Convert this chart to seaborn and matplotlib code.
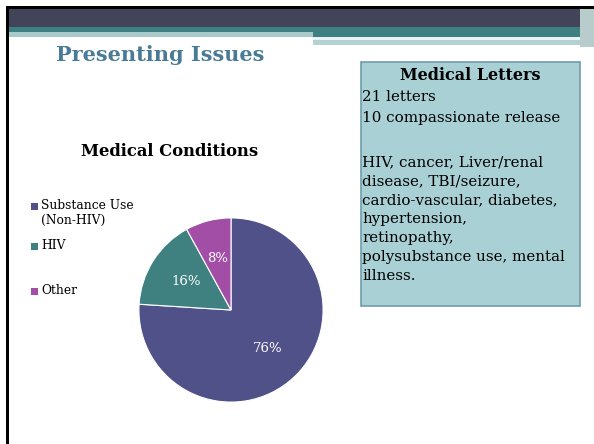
import numpy as np
import matplotlib
matplotlib.use("Agg")
import matplotlib.pyplot as plt
import seaborn as sns
from matplotlib.patches import Rectangle

# data
categories = ["Substance Use\n(Non-HIV)", "HIV", "Other"]
shares = [76, 16, 8]
colors = ["#51518A", "#3F8181", "#A24DA6"]
legend_y = [206, 246, 291]

box_title = "Medical Letters"
box_lines = ["21 letters", "10 compassionate release",
             "HIV, cancer, Liver/renal", "disease, TBI/seizure,",
             "cardio-vascular, diabetes,", "hypertension,", "retinopathy,",
             "polysubstance use, mental", "illness."]
box_y = [97, 118, 162, 181, 200, 219, 238, 257, 276]

sns.set_theme(style="white")
serif = ["DejaVu Serif", "Liberation Serif"]
plt.rcParams["font.family"] = serif
plt.rcParams["text.color"] = "black"

W, H = 594, 444
fig = plt.figure(figsize=(W / 100, H / 100), dpi=100)
fig.patch.set_facecolor("white")

# background axes in pixel coordinates
bg = fig.add_axes([0, 0, 1, 1])
bg.set_xlim(0, W)
bg.set_ylim(H, 0)
bg.axis("off")

# slide header decoration
bg.add_patch(Rectangle((6, 6), W - 6, 3, color="black", lw=0))
bg.add_patch(Rectangle((6, 6), 3, H - 6, color="black", lw=0))
bg.add_patch(Rectangle((9, 9), W - 9, 18, color="#42445A", lw=0))
bg.add_patch(Rectangle((9, 27), W - 9, 5, color="#3E7F82", lw=0))
bg.add_patch(Rectangle((9, 32), 304, 5, color="#A9CACA", lw=0))
bg.add_patch(Rectangle((313, 32), W - 313, 5, color="#3E7F82", lw=0))
bg.add_patch(Rectangle((313, 37), 270, 3, color="#EAF2F2", lw=0))
bg.add_patch(Rectangle((313, 40), 270, 5, color="#B5D2D2", lw=0))
bg.add_patch(Rectangle((580, 9), 14, 38, color="#B8CCCC", lw=0))

# title
bg.text(56, 55, "Presenting Issues", fontsize=15, fontweight="bold",
        color="#4A7B96", va="center", ha="left")

# chart title
bg.text(170, 151, "Medical Conditions", fontsize=11.8, fontweight="bold",
        color="black", va="center", ha="center")

# legend
for lab, col, y in zip(categories, colors, legend_y):
    bg.add_patch(Rectangle((31, y - 3.5), 7, 7, color=col, lw=0))
    bg.text(41, y - 7, lab, fontsize=8.8, va="top", ha="left",
            linespacing=1.15, color="black")

# text box
bg.add_patch(Rectangle((361, 62), 219, 244, facecolor="#A9D1D5",
                       edgecolor="#6F9DAE", lw=1.2))
bg.text(470, 76, box_title, fontsize=11.5, fontweight="bold",
        va="center", ha="center", color="black")
for line, y in zip(box_lines, box_y):
    bg.text(362, y, line, fontsize=10.9, va="center", ha="left",
            color="black")

# pie
ax = fig.add_axes([138 / W, (H - 403) / H, 186 / W, 186 / H])
wedges, texts, autotexts = ax.pie(
    shares, colors=colors, startangle=90, counterclock=False,
    autopct="%d%%", pctdistance=0.58,
    wedgeprops=dict(edgecolor="white", linewidth=0.8),
    textprops=dict(color="white", fontsize=9.5))
ax.set_xlim(-1.01, 1.01)
ax.set_ylim(-1.01, 1.01)
ax.set_aspect("equal")

fig.savefig("out.png", dpi=100, facecolor="white")
